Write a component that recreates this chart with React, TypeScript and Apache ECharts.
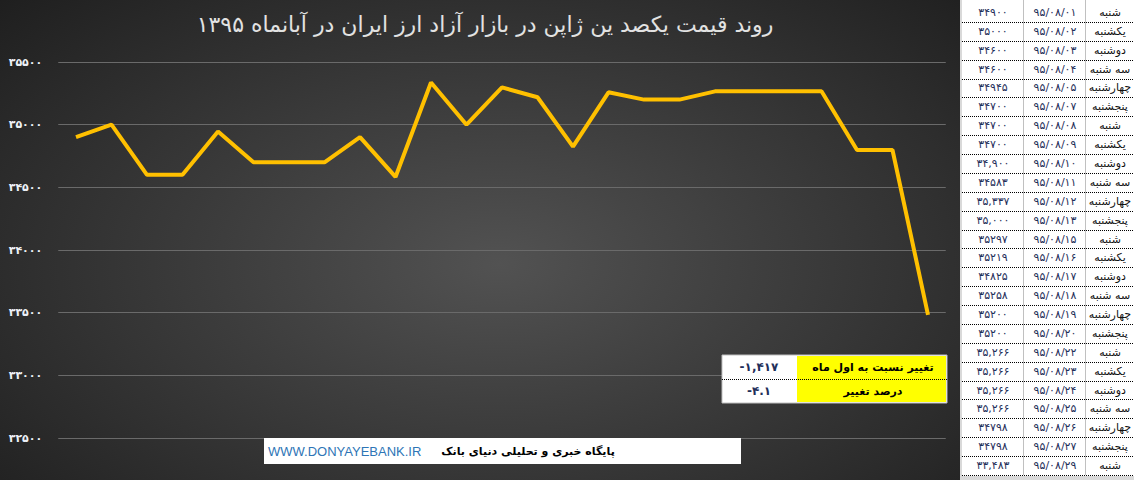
import { useEffect, useRef } from 'react';
import * as echarts from 'echarts';

// one row per trading day
const dates = [
  '95/08/01', '95/08/02', '95/08/03', '95/08/04', '95/08/05', '95/08/07', '95/08/08',
  '95/08/09', '95/08/10', '95/08/11', '95/08/12', '95/08/13', '95/08/15', '95/08/16',
  '95/08/17', '95/08/18', '95/08/19', '95/08/20', '95/08/22', '95/08/23', '95/08/24',
  '95/08/25', '95/08/26', '95/08/27', '95/08/29',
];
const weekdays = [
  'شنبه', 'یکشنبه', 'دوشنبه', 'سه شنبه', 'چهارشنبه', 'پنجشنبه', 'شنبه',
  'یکشنبه', 'دوشنبه', 'سه شنبه', 'چهارشنبه', 'پنجشنبه', 'شنبه', 'یکشنبه',
  'دوشنبه', 'سه شنبه', 'چهارشنبه', 'پنجشنبه', 'شنبه', 'یکشنبه', 'دوشنبه',
  'سه شنبه', 'چهارشنبه', 'پنجشنبه', 'شنبه',
];
const prices = [
  34900, 35000, 34600, 34600, 34945, 34700, 34700,
  34700, 34900, 34583, 35337, 35000, 35297, 35219,
  34825, 35258, 35200, 35200, 35266, 35266, 35266,
  35266, 34798, 34798, 33483,
];
// rows (1-based) whose price is printed with a thousands separator in the table
const commaRows = [9, 11, 12, 19, 20, 21, 22, 25];

const yMin = 32500;
const yMax = 35500;
const yStep = 500;

const titleText = 'روند قیمت یکصد ین ژاپن در بازار آزاد ارز ایران در آبانماه ۱۳۹۵';
const changeLabels = ['تغییر نسبت به اول ماه', 'درصد تغییر'];
const siteUrl = 'WWW.DONYAYEBANK.IR';
const siteName = 'پایگاه خبری و تحلیلی دنیای بانک';

const FA_DIGITS = '۰۱۲۳۴۵۶۷۸۹';
const toFa = (s: string) => s.replace(/\d/g, (d) => FA_DIGITS[+d]);
const withComma = (n: number) => n.toString().replace(/\B(?=(\d{3})+(?!\d))/g, ',');

const FA_FONT = '"DejaVu Sans", sans-serif';

export default function App() {
  const chartRef = useRef<HTMLDivElement>(null);

  useEffect(() => {
    if (!chartRef.current) return;
    const chart = echarts.init(chartRef.current, null, { renderer: 'svg' });

    const first = prices[0];
    const last = prices[prices.length - 1];
    const diff = last - first;
    const pct = ((diff / first) * 100).toFixed(1);

    // side table
    const tableX = 960;
    const rowTop = 3;
    const rowH = 18.88;
    const tableBottom = rowTop + rowH * dates.length;
    const table: any[] = [
      { type: 'rect', shape: { x: tableX, y: 0, width: 1134 - tableX, height: 480 }, style: { fill: '#d9d9d9' } },
      { type: 'rect', shape: { x: tableX + 2, y: 0, width: 1134 - tableX - 2, height: tableBottom + 1 }, style: { fill: '#ffffff' } },
      { type: 'line', shape: { x1: 1023.5, y1: 0, x2: 1023.5, y2: tableBottom }, style: { stroke: '#c0c0c0', lineWidth: 1 } },
      { type: 'line', shape: { x1: 1085.5, y1: 0, x2: 1085.5, y2: tableBottom }, style: { stroke: '#c0c0c0', lineWidth: 1 } },
    ];
    dates.forEach((d, i) => {
      const cy = rowTop + rowH * i + rowH / 2;
      const by = Math.round(rowTop + rowH * (i + 1)) + 0.5;
      table.push(
        { type: 'line', shape: { x1: tableX + 2, y1: by, x2: 1134, y2: by }, style: { stroke: '#000', lineWidth: 1, lineDash: [1, 1] } },
        {
          type: 'text', x: 993, y: cy,
          style: {
            text: toFa(commaRows.includes(i + 1) ? withComma(prices[i]) : String(prices[i])),
            fill: '#1f2f5a', fontSize: 11, fontFamily: FA_FONT, align: 'center', verticalAlign: 'middle',
          },
        },
        {
          type: 'text', x: 1055, y: cy,
          style: { text: toFa(d), fill: '#1f2f5a', fontSize: 11, fontFamily: FA_FONT, align: 'center', verticalAlign: 'middle' },
        },
        {
          type: 'text', x: 1110, y: cy,
          style: { text: weekdays[i], fill: '#111', fontSize: 11, fontFamily: FA_FONT, align: 'center', verticalAlign: 'middle' },
        },
      );
    });

    // change box
    const box: any[] = [
      { type: 'rect', z: 100, shape: { x: 722, y: 355, width: 225, height: 48 }, style: { fill: '#ffffff', stroke: '#bfbfbf', lineWidth: 1 } },
      { type: 'rect', z: 101, shape: { x: 797, y: 356, width: 149, height: 46 }, style: { fill: '#ffff00' } },
      { type: 'line', z: 102, shape: { x1: 722, y1: 379.5, x2: 947, y2: 379.5 }, style: { stroke: '#000', lineWidth: 1, lineDash: [1, 1] } },
      {
        type: 'text', z: 103, x: 873, y: 367,
        style: { text: changeLabels[0], fill: '#000', fontSize: 11, fontWeight: 'bold', fontFamily: FA_FONT, align: 'center', verticalAlign: 'middle' },
      },
      {
        type: 'text', z: 103, x: 873, y: 391,
        style: { text: changeLabels[1], fill: '#000', fontSize: 11, fontWeight: 'bold', fontFamily: FA_FONT, align: 'center', verticalAlign: 'middle' },
      },
      {
        type: 'text', z: 103, x: 759, y: 367,
        style: { text: toFa(withComma(diff)), fill: '#1f2f5a', fontSize: 12, fontWeight: 'bold', fontFamily: FA_FONT, align: 'center', verticalAlign: 'middle' },
      },
      {
        type: 'text', z: 103, x: 759, y: 391,
        style: { text: toFa(pct), fill: '#1f2f5a', fontSize: 12, fontWeight: 'bold', fontFamily: FA_FONT, align: 'center', verticalAlign: 'middle' },
      },
    ];

    // footer
    const footer: any[] = [
      { type: 'rect', z: 100, shape: { x: 264, y: 438, width: 477, height: 26 }, style: { fill: '#ffffff' } },
      {
        type: 'text', z: 101, x: 268, y: 451,
        style: { text: siteUrl, fill: '#2e75b6', fontSize: 13, fontFamily: '"Liberation Sans", Arial, sans-serif', align: 'left', verticalAlign: 'middle' },
      },
      {
        type: 'text', z: 101, x: 528, y: 451,
        style: { text: siteName, fill: '#000', fontSize: 11, fontWeight: 'bold', fontFamily: FA_FONT, align: 'center', verticalAlign: 'middle' },
      },
    ];

    chart.setOption({
      animation: false,
      backgroundColor: 'transparent',
      grid: { left: 58.25, right: 188.25, top: 62, bottom: 42 },
      xAxis: {
        type: 'category',
        data: dates,
        boundaryGap: true,
        axisLine: { show: false },
        axisTick: { show: false },
        axisLabel: { show: false },
      },
      yAxis: {
        type: 'value',
        min: yMin,
        max: yMax,
        interval: yStep,
        axisLine: { show: false },
        axisTick: { show: false },
        axisLabel: {
          margin: 16,
          color: '#eef2f8',
          fontSize: 11,
          fontWeight: 'bold',
          fontFamily: FA_FONT,
          formatter: (v: number) => toFa(String(v)),
        },
        splitLine: { lineStyle: { color: '#6a6a6a', width: 1 } },
      },
      series: [
        {
          type: 'line',
          data: prices,
          showSymbol: false,
          silent: true,
          lineStyle: { color: '#ffc000', width: 4 },
        },
      ],
      graphic: [
        {
          type: 'text', x: 485, y: 24,
          style: { text: titleText, fill: '#e2e2e2', fontSize: 22, fontFamily: FA_FONT, align: 'center', verticalAlign: 'middle' },
        },
        ...table,
        ...box,
        ...footer,
      ],
    });

    return () => chart.dispose();
  }, []);

  return (
    <div style={{ position: 'absolute', left: 0, top: 0, width: 1134, height: 480 }}>
      <div
        ref={chartRef}
        style={{
          width: 1134,
          height: 480,
          background: 'radial-gradient(ellipse 75% 85% at 52% 55%, #525252 0%, #1c1c1c 100%) 0 0 / 960px 480px no-repeat, #ffffff',
        }}
      />
    </div>
  );
}
